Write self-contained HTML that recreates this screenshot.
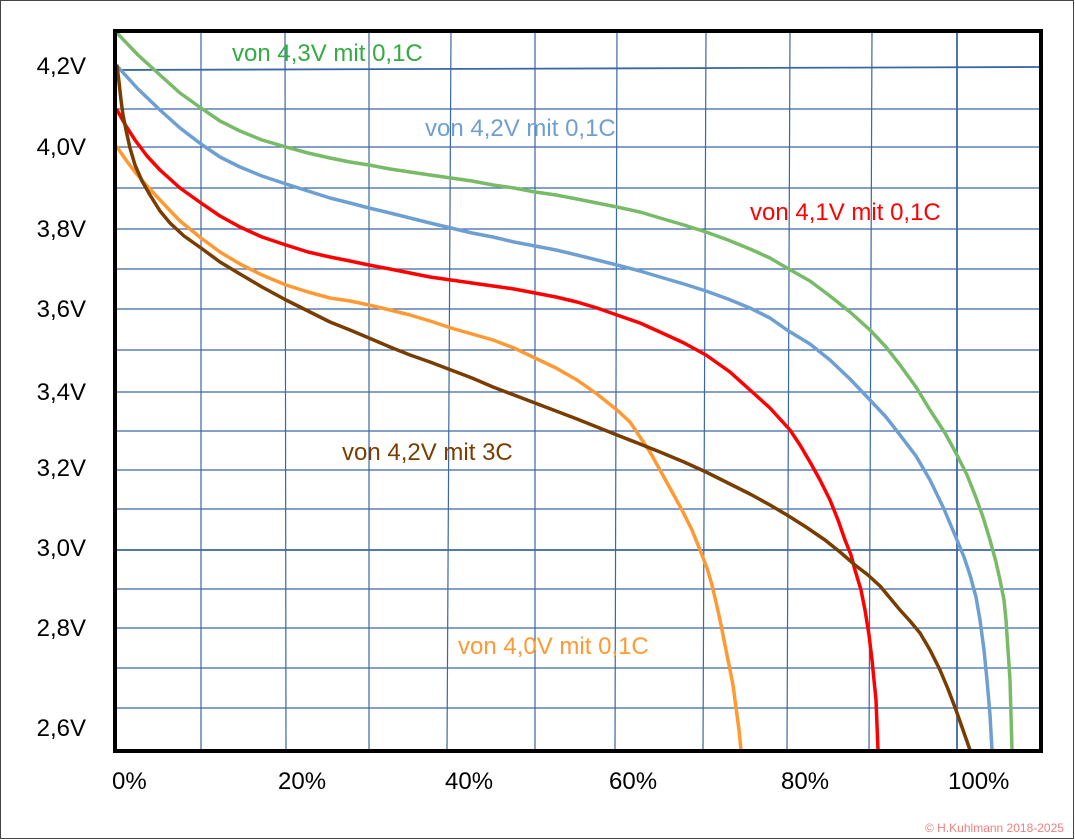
<!DOCTYPE html>
<html><head><meta charset="utf-8"><style>
html,body{margin:0;padding:0;background:#fff}
svg{display:block}
text{font-family:"Liberation Sans",sans-serif}
</style></head><body>
<svg width="1075" height="840" viewBox="0 0 1075 840">
<rect x="0.5" y="0.5" width="1073" height="838" fill="#fff" stroke="#444" stroke-width="1"/>
<g stroke="#3a67a6" stroke-width="1.2" fill="none">
<line x1="201" y1="31" x2="201" y2="751"/>
<line x1="285" y1="31" x2="286" y2="751"/>
<line x1="369" y1="31" x2="369" y2="751"/>
<line x1="451" y1="31" x2="447" y2="751"/>
<line x1="535" y1="31" x2="535" y2="751"/>
<line x1="617" y1="31" x2="615" y2="751"/>
<line x1="706" y1="31" x2="703" y2="751"/>
<line x1="790" y1="31" x2="787" y2="751"/>
<line x1="872" y1="31" x2="869" y2="751"/>
<line x1="957" y1="31" x2="957" y2="751" stroke-width="1.8"/>
<line x1="115" y1="70" x2="1041" y2="67" stroke-width="1.8"/>
<line x1="115" y1="109" x2="1041" y2="109"/>
<line x1="115" y1="147" x2="1041" y2="147"/>
<line x1="115" y1="188" x2="1041" y2="188"/>
<line x1="115" y1="229" x2="1041" y2="229"/>
<line x1="115" y1="269" x2="1041" y2="269"/>
<line x1="115" y1="309" x2="1041" y2="309"/>
<line x1="115" y1="350" x2="1041" y2="350"/>
<line x1="115" y1="392" x2="1041" y2="392"/>
<line x1="115" y1="431" x2="1041" y2="431"/>
<line x1="115" y1="470" x2="1041" y2="470"/>
<line x1="115" y1="509" x2="1041" y2="509"/>
<line x1="115" y1="550" x2="1041" y2="550" stroke-width="1.8"/>
<line x1="115" y1="589" x2="1041" y2="589"/>
<line x1="115" y1="628" x2="1041" y2="628"/>
<line x1="115" y1="668" x2="1041" y2="668"/>
<line x1="115" y1="708" x2="1041" y2="708"/>
</g>
<g fill="none" stroke-width="3.5" stroke-linejoin="round" stroke-linecap="round">
<polyline stroke="#77bb66" points="117,33 138,55 160,75 180,93 201,108 220,121 240,131 262,140 286,147 308,153 330,158 350,162 369,165 390,169 410,172 430,175 451,178 472,181 493,185 514,188 535,192 556,195 577,199 597,203 617,207 640,212 660,218 684,225 706,232 728,240 750,249 770,258 787,268 810,281 830,296 850,312 870,330 886,347 900,365 916,387 930,410 945,433 957,455 967,475 975,495 983,517 990,540 996,562 1000,580 1004,600 1006,620 1008,650 1010,680 1011,715 1012,750"/>
<polyline stroke="#6e9fd2" points="117,66 138,89 160,110 180,128 201,144 220,157 240,167 262,176 286,184 308,191 330,198 350,203 369,208 390,213 410,218 430,223 451,228 472,233 493,237 514,242 535,246 556,250 577,255 597,260 617,265 640,271 660,277 684,284 706,291 728,299 750,308 770,318 787,330 810,344 830,360 850,379 870,400 886,417 900,435 916,456 930,480 944,509 957,540 964,557 970,575 976,597 980,620 984,650 987,680 990,715 992,750"/>
<polyline stroke="#ff0000" points="117,110 126,126 135,140 147,156 160,170 180,188 201,203 220,216 240,227 262,237 286,245 308,252 330,257 350,261 369,265 390,269 410,273 430,277 451,280 472,283 493,286 514,289 535,293 556,297 577,302 597,308 617,315 640,323 660,332 684,343 706,355 730,372 750,390 770,408 790,430 800,445 810,462 820,480 830,500 838,520 845,540 851,555 855,570 861,590 865,610 869,635 872,660 874,680 876,700 877,725 878,750"/>
<polyline stroke="#ff9933" points="117,147 126,160 135,172 147,186 160,200 180,221 201,238 220,252 240,264 262,275 286,285 308,292 330,298 350,301 369,305 390,310 410,315 430,321 451,328 472,334 493,340 514,348 535,358 556,368 577,380 597,394 617,410 630,422 640,437 650,452 660,470 671,490 682,510 692,530 700,550 707,568 712,585 716,602 720,620 725,645 730,670 733,685 735,700 737,715 739,730 740,740 741,750"/>
<polyline stroke="#7a3d00" points="117,66 119,82 121,100 123,115 126,130 130,148 135,165 142,181 150,195 160,211 170,223 184,236 201,248 220,262 240,274 262,287 286,300 308,311 330,322 350,330 369,338 390,347 410,355 430,362 451,370 472,378 493,387 514,395 535,403 556,411 577,419 597,427 617,435 640,444 660,452 684,462 706,472 728,483 750,494 770,505 787,515 806,527 825,540 840,552 855,565 868,575 880,586 890,598 900,610 910,621 920,633 930,650 940,670 948,689 956,710 963,730 970,750"/>
</g>
<rect x="115" y="31" width="926" height="720" fill="none" stroke="#000" stroke-width="4"/>
<g font-size="24" fill="#000" text-anchor="end">
<text x="86" y="74">4,2V</text>
<text x="86" y="155">4,0V</text>
<text x="86" y="237">3,8V</text>
<text x="86" y="317">3,6V</text>
<text x="86" y="400">3,4V</text>
<text x="86" y="476">3,2V</text>
<text x="86" y="556">3,0V</text>
<text x="86" y="636">2,8V</text>
<text x="86" y="736">2,6V</text>
</g>
<g font-size="24" fill="#000">
<text x="112" y="789">0%</text>
<text x="278" y="789">20%</text>
<text x="445" y="789">40%</text>
<text x="609" y="789">60%</text>
<text x="781" y="789">80%</text>
<text x="948" y="789">100%</text>
</g>
<g font-size="24">
<text x="232" y="61" fill="#33aa44">von 4,3V mit 0,1C</text>
<text x="425" y="136" fill="#6e9fd2">von 4,2V mit 0,1C</text>
<text x="750" y="220" fill="#ff0000">von 4,1V mit 0,1C</text>
<text x="342" y="460" fill="#7a3d00">von 4,2V mit 3C</text>
<text x="458" y="654" fill="#ff9933">von 4,0V mit 0,1C</text>
</g>
<text x="925" y="832" font-size="12" fill="#f08080">© H.Kuhlmann 2018-2025</text>
</svg>
</body></html>
